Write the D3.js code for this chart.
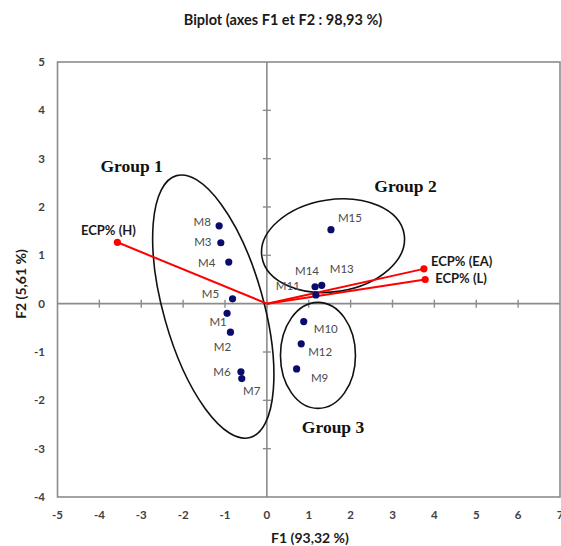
<!DOCTYPE html>
<html><head><meta charset="utf-8">
<script src="https://cdn.jsdelivr.net/npm/d3@7"></script>
<style>
html,body{margin:0;padding:0;background:#fff;overflow:hidden;}
</style></head>
<body>
<svg id="chart" width="561" height="546"></svg>
<script>
// ---- data ----
const obsNames = ["M1","M2","M3","M4","M5","M6","M7","M8","M9","M10","M11","M12","M13","M14","M15"];
const obsF1 = [-0.95,-0.87,-1.10,-0.91,-0.82,-0.62,-0.60,-1.14,0.71,0.88,1.17,0.82,1.31,1.15,1.53];
const obsF2 = [-0.20,-0.59,1.26,0.86,0.10,-1.41,-1.55,1.61,-1.35,-0.37,0.18,-0.83,0.38,0.35,1.53];
const varNames = ["ECP% (H)","ECP% (EA)","ECP% (L)"];
const varF1 = [-3.57,3.75,3.78];
const varF2 = [1.27,0.72,0.50];
const xTicks = [-5,-4,-3,-2,-1,0,1,2,3,4,5,6,7];
const yTicks = [-4,-3,-2,-1,0,1,2,3,4,5];
const groupNames = ["Group 1","Group 2","Group 3"];
const groupCenterF1 = [-1.28,1.58,1.22];
const groupCenterF2 = [-0.06,1.20,-1.07];
const groupLabelF1 = [-3.23,3.31,1.58];
const groupLabelF2 = [2.84,2.44,-2.55];
const titleText = "Biplot (axes F1 et F2 : 98,93 %)";
const xLabel = "F1 (93,32 %)";
const yLabel = "F2 (5,61 %)";

// ---- layout / style ----
const obsLabelOffset = {
  M1:[-9,9],M2:[-8,15],M3:[-18,-1],M4:[-22,1],M5:[-22,-5],M6:[-19,0],M7:[10,12],M8:[-17,-4],
  M9:[23,9],M10:[22,7],M11:[-28,-9],M12:[19,8],M13:[20,-16],M14:[-8,-16],M15:[19,-12]
};
const varLabelOffset = [[-9,-12,"middle"],[7,-7,"start"],[10,-1,"start"]];
const ellipseShape = [[50,136,-15.7],[72,46,-9],[37.5,53,0]]; // rx, ry (px), angle

const svg = d3.select("#chart");
const x = d3.scaleLinear().domain([-5,7]).range([57.5,560]);
const y = d3.scaleLinear().domain([-4,5]).range([497,62]);
const axisColor = "#8c8c8c";
const tickFont = "Lato, 'Open Sans', sans-serif";

// frame
svg.append("rect")
  .attr("x", x(-5)).attr("y", y(5))
  .attr("width", x(7)-x(-5)).attr("height", y(-4)-y(5))
  .attr("fill","none").attr("stroke",axisColor).attr("stroke-width",1.6);

// axes through origin
svg.append("line").attr("x1",x(-5)).attr("x2",x(7)).attr("y1",y(0)).attr("y2",y(0))
  .attr("stroke",axisColor).attr("stroke-width",1.6);
svg.append("line").attr("x1",x(0)).attr("x2",x(0)).attr("y1",y(5)).attr("y2",y(-4))
  .attr("stroke",axisColor).attr("stroke-width",1.6);
// cross ticks
svg.selectAll(".xt").data(xTicks.filter(d=>d>-5&&d<7)).enter().append("line")
  .attr("x1",d=>x(d)).attr("x2",d=>x(d)).attr("y1",y(0)-4).attr("y2",y(0)+4)
  .attr("stroke",axisColor).attr("stroke-width",1.4);
svg.selectAll(".yt").data(yTicks.filter(d=>d>-4&&d<5)).enter().append("line")
  .attr("y1",d=>y(d)).attr("y2",d=>y(d)).attr("x1",x(0)-4).attr("x2",x(0)+4)
  .attr("stroke",axisColor).attr("stroke-width",1.4);

// tick labels
svg.selectAll(".xl").data(xTicks).enter().append("text")
  .attr("x",d=>x(d)).attr("y",519).attr("text-anchor","middle")
  .attr("font-family",tickFont).attr("font-weight","bold").attr("font-size",11.5)
  .attr("fill","#404040").text(d=>d);
svg.selectAll(".yl").data(yTicks).enter().append("text")
  .attr("x",45).attr("y",d=>y(d)+4).attr("text-anchor","end")
  .attr("font-family",tickFont).attr("font-weight","bold").attr("font-size",11.5)
  .attr("fill","#404040").text(d=>d);

// titles
svg.append("text").attr("x",283).attr("y",25).attr("text-anchor","middle")
  .attr("font-family",tickFont).attr("font-weight","bold").attr("font-size",14.5)
  .attr("fill","#1a1a1a").text(titleText);
svg.append("text").attr("x",310).attr("y",543).attr("text-anchor","middle")
  .attr("font-family",tickFont).attr("font-weight","bold").attr("font-size",14)
  .attr("fill","#1a1a1a").text(xLabel);
svg.append("text").attr("transform","translate(26,284) rotate(-90)").attr("text-anchor","middle")
  .attr("font-family",tickFont).attr("font-weight","bold").attr("font-size",14)
  .attr("fill","#1a1a1a").text(yLabel);

// ellipses
groupNames.forEach((g,i)=>{
  const [rx,ry,ang] = ellipseShape[i];
  svg.append("ellipse")
    .attr("transform",`translate(${x(groupCenterF1[i])},${y(groupCenterF2[i])}) rotate(${ang})`)
    .attr("rx",rx).attr("ry",ry)
    .attr("fill","none").attr("stroke","#111").attr("stroke-width",1.6);
  svg.append("text").attr("x",x(groupLabelF1[i])).attr("y",y(groupLabelF2[i])+6)
    .attr("text-anchor","middle")
    .attr("font-family","'Liberation Serif','DejaVu Serif',serif").attr("font-weight","bold")
    .attr("font-size",17.5).attr("fill","#111").text(g);
});

// variable vectors
varNames.forEach((v,i)=>{
  svg.append("line").attr("x1",x(0)).attr("y1",y(0)).attr("x2",x(varF1[i])).attr("y2",y(varF2[i]))
    .attr("stroke","#ff0000").attr("stroke-width",2);
});
varNames.forEach((v,i)=>{
  svg.append("circle").attr("cx",x(varF1[i])).attr("cy",y(varF2[i])).attr("r",3.6).attr("fill","#ff0000");
  const [dx,dy,anc] = varLabelOffset[i];
  svg.append("text").attr("x",x(varF1[i])+dx).attr("y",y(varF2[i])+dy+4.5)
    .attr("text-anchor",anc).attr("font-family",tickFont).attr("font-weight","bold")
    .attr("font-size",13).attr("fill","#1a1a1a").text(v);
});

// observations
obsNames.forEach((n,i)=>{
  svg.append("circle").attr("cx",x(obsF1[i])).attr("cy",y(obsF2[i])).attr("r",3.6).attr("fill","#0b0b6b");
  const [dx,dy] = obsLabelOffset[n];
  svg.append("text").attr("x",x(obsF1[i])+dx).attr("y",y(obsF2[i])+dy+4)
    .attr("text-anchor","middle").attr("font-family",tickFont)
    .attr("font-size",11.5).attr("fill","#4a4a4a").text(n);
});
</script>
</body></html>
